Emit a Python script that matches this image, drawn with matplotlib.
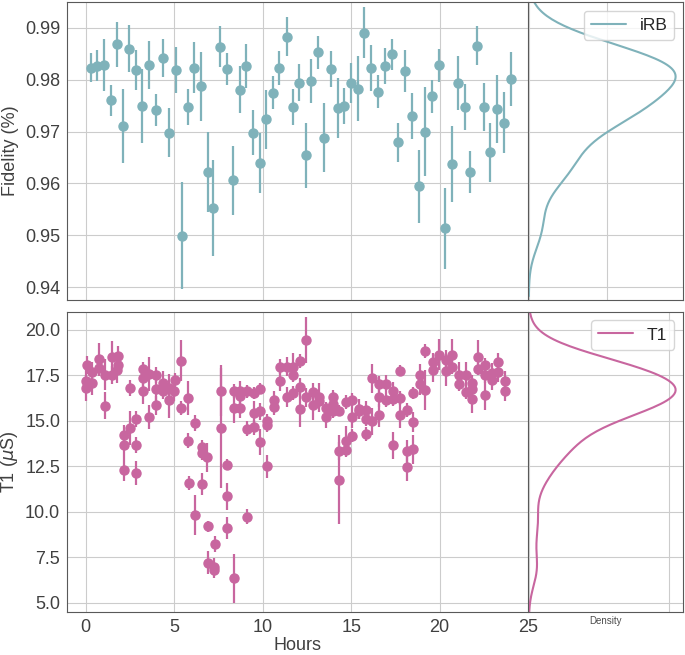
import matplotlib
matplotlib.use("Agg")
import matplotlib.pyplot as plt
from matplotlib.ticker import FormatStrFormatter, MultipleLocator
import seaborn as sns

# iRB fidelity vs time
rb_hours = [0.28, 0.64, 1.04, 1.41, 1.77, 2.09, 2.47, 2.84, 3.2, 3.58, 3.95, 4.35, 4.71,
            5.08, 5.46, 5.76, 6.14, 6.52, 6.89, 7.21, 7.59, 7.97, 8.32, 8.7, 9.08, 9.45,
            9.83, 10.2, 10.56, 10.94, 11.39, 11.69, 12.07, 12.43, 12.75, 13.13, 13.49,
            13.87, 14.25, 14.62, 15.0, 15.38, 15.75, 16.13, 16.49, 16.94, 17.32, 17.66,
            18.06, 18.43, 18.81, 19.17, 19.55, 19.94, 20.3, 20.68, 21.06, 21.43, 21.74,
            22.11, 22.49, 22.87, 23.25, 23.62, 24.06]
rb_fid = [0.9823, 0.9827, 0.9829, 0.9760, 0.9868, 0.9711, 0.9860, 0.9819, 0.9749, 0.9828,
          0.9741, 0.9842, 0.9698, 0.9819, 0.9499, 0.9747, 0.9823, 0.9787, 0.9622, 0.9552,
          0.9864, 0.9821, 0.9606, 0.9781, 0.9826, 0.9698, 0.9639, 0.9724, 0.9775, 0.9823,
          0.9883, 0.9747, 0.9794, 0.9654, 0.9798, 0.9853, 0.9688, 0.9821, 0.9745, 0.9749,
          0.9794, 0.9783, 0.9891, 0.9823, 0.9777, 0.9826, 0.9849, 0.9679, 0.9817, 0.9730,
          0.9594, 0.9700, 0.9768, 0.9828, 0.9513, 0.9637, 0.9794, 0.9747, 0.9622, 0.9866,
          0.9747, 0.9660, 0.9743, 0.9717, 0.9802]
rb_err = [0.0028, 0.003, 0.005, 0.003, 0.0044, 0.0071, 0.0045, 0.0038, 0.0072, 0.0046,
          0.0031, 0.0036, 0.0047, 0.0045, 0.0103, 0.0035, 0.0049, 0.0067, 0.0077, 0.0093,
          0.0039, 0.0031, 0.0067, 0.0045, 0.0042, 0.0043, 0.0058, 0.0057, 0.0032, 0.0033,
          0.0038, 0.0035, 0.0036, 0.0063, 0.0042, 0.0032, 0.0067, 0.0035, 0.0058, 0.0035,
          0.0038, 0.0062, 0.005, 0.0044, 0.0032, 0.0035, 0.003, 0.0038, 0.0041, 0.0044,
          0.007, 0.0085, 0.0032, 0.0032, 0.0078, 0.0073, 0.0052, 0.0044, 0.004, 0.0037,
          0.0046, 0.0057, 0.0066, 0.0059, 0.0052]

# T1 vs time
t1_hours = [0.0, 0.0, 0.06, 0.33, 0.37, 0.74, 0.74, 1.1, 1.1, 1.47, 1.47, 1.82, 1.82, 1.77,
            2.14, 2.14, 2.14, 2.51, 2.51, 2.86, 2.86, 2.86, 3.23, 3.23, 3.23, 3.6, 3.6,
            3.98, 3.98, 3.98, 4.35, 4.35, 4.72, 4.72, 4.98, 5.07, 5.39, 5.39,
            5.79, 5.79, 5.83, 6.17, 6.17, 6.55, 6.55, 6.55, 6.88, 6.92, 6.92, 7.3, 7.26,
            7.26, 7.62, 7.62, 7.99, 7.99, 7.99, 8.37, 8.37, 8.37, 8.74, 8.74, 8.74, 9.12,
            9.12, 9.12, 9.49, 9.49, 9.49, 9.87, 9.87, 9.87, 10.24, 10.24, 10.24, 10.62,
            10.62, 11.0, 11.0, 11.37, 11.37, 11.71, 11.71, 11.71, 12.12, 12.12, 12.12,
            12.46, 12.46,
            12.84, 12.84, 13.21, 13.21, 13.59, 13.59, 13.96, 13.96, 13.96, 14.34, 14.34,
            14.34, 14.69, 14.69, 14.69, 15.07, 15.07, 15.07, 15.45, 15.45, 15.82, 15.82,
            15.82, 16.2, 16.2, 16.57, 16.57, 16.57, 16.99, 16.99, 17.36, 17.36, 17.36,
            17.76, 17.76, 17.76, 18.13, 18.13, 18.13, 18.51, 18.51, 18.51, 18.88, 18.88,
            19.17, 19.17,
            19.63, 19.63, 19.97, 20.35, 20.35, 20.72, 20.72, 21.1, 21.1, 21.48, 21.48,
            21.81, 21.81, 21.81, 22.19, 22.19, 22.56, 22.56, 22.56, 22.94, 22.94, 23.31,
            23.31, 23.69, 23.69]
t1_vals = [17.22, 16.8, 18.08, 17.11, 17.71, 18.39, 17.93, 17.53, 15.83, 18.54, 17.53, 18.57,
           18.08, 17.8, 14.24, 13.66, 12.32, 16.8, 14.61, 15.12, 13.66, 12.14, 17.84, 17.35,
           16.62, 17.57, 15.23, 17.53, 16.76, 15.85, 17.07, 16.62, 16.8, 16.16, 16.62, 17.26,
           18.32, 15.7,
           16.25, 13.91, 11.59, 14.88, 9.82, 13.55, 13.24, 11.54, 13.0, 9.21, 7.2, 8.21,
           6.97, 6.78, 16.65, 14.6, 12.6, 10.86, 9.12, 16.65, 15.7, 6.33, 16.65, 16.38,
           15.7, 16.62, 14.57, 9.73, 16.53, 15.43, 14.64, 16.76, 15.52, 13.84, 14.97, 14.79,
           12.5, 16.16, 15.74, 17.17, 17.99, 17.99, 16.29, 17.99, 17.53, 16.53, 16.84, 15.67,
           18.3, 19.45, 16.29,
           16.58, 15.85, 16.29, 16.1, 15.70, 15.19, 16.29, 15.92, 15.56, 15.56, 13.36, 11.77,
           13.91, 13.42, 16.03, 16.16, 15.19, 14.19, 15.65, 15.52, 15.61, 15.12, 14.28, 17.35,
           14.97, 17.02, 16.29, 15.30, 17.02, 16.16, 16.65, 16.21, 13.66, 17.75, 16.25, 15.30,
           15.61, 13.36, 12.45, 16.53, 14.92, 13.45, 17.53, 17.02, 18.85, 16.71,
           18.26, 17.80, 18.63, 18.35, 17.75, 18.63, 17.99, 17.53, 17.02, 17.53, 16.58, 17.07,
           16.21, 16.76, 18.54, 17.86, 18.08, 16.4, 17.5, 17.62, 17.26, 18.26, 17.71, 17.17,
           16.62]
t1_err = [0.7, 0.7, 0.5, 0.7, 0.55, 0.9, 0.4, 0.85, 0.75, 0.85, 0.5, 0.55, 0.4, 0.7, 0.55,
          0.7, 0.65, 0.45, 0.95, 0.45, 0.45, 0.65, 0.4, 0.7, 0.7, 0.95, 0.65, 0.45, 0.7, 0.5,
          0.65, 0.4, 0.8, 1.0, 0.5, 0.4, 1.15, 0.4,
          0.95, 0.4, 0.37, 0.45, 1.1, 0.4, 0.4, 0.6, 0.8, 0.3, 0.65, 0.45, 0.5, 0.4, 1.4,
          3.3, 0.3, 0.75, 0.6, 0.4, 0.8, 1.35, 0.55, 0.4, 0.55, 0.35, 0.4, 0.4, 0.35, 0.65,
          0.4, 0.3, 0.45, 0.7, 0.4, 0.4, 0.65, 0.5, 0.4, 0.55, 0.4, 0.5, 0.55, 0.75, 0.4,
          0.4, 0.5, 1.0, 0.4, 1.25, 0.5,
          0.5, 0.8, 0.8, 0.4, 0.35, 0.6, 0.4, 0.4, 0.4, 0.3, 0.5, 2.45, 0.8, 0.4, 0.4, 0.4,
          0.6, 0.35, 0.55, 0.4, 0.5, 0.4, 0.4, 0.8, 0.75, 0.45, 0.55, 0.65, 0.5, 0.4, 0.5,
          0.4, 0.75, 0.3, 0.4, 0.7, 0.4, 0.6, 0.75, 0.35, 0.55, 0.8, 0.6, 0.6, 0.4, 1.1,
          0.5, 0.65, 0.85, 0.55, 0.85, 0.9, 0.4, 0.7, 0.4, 0.7, 0.4, 0.45, 0.75, 0.4, 0.9,
          0.35, 0.4, 0.8, 0.4, 0.55, 0.55, 0.45, 0.55, 0.6, 0.55]

teal = "#7fb2ba"
pink = "#c8669f"
txt = "0.25"

sns.set_style("whitegrid")
plt.rcParams["axes.edgecolor"] = "0.35"
plt.rcParams["font.family"] = ["Liberation Sans", "DejaVu Sans"]

fig = plt.figure(figsize=(6.85, 6.55), dpi=100)
ax1 = fig.add_axes([0.098, 0.542, 0.673, 0.455])
ax1d = fig.add_axes([0.772, 0.542, 0.225, 0.455], sharey=ax1)
ax2 = fig.add_axes([0.098, 0.066, 0.673, 0.458], sharex=ax1)
ax2d = fig.add_axes([0.772, 0.066, 0.225, 0.458], sharey=ax2)

ax1.errorbar(rb_hours, rb_fid, yerr=rb_err, fmt="o", color=teal, ms=6.5,
             elinewidth=1.6, ecolor=teal)
ax2.errorbar(t1_hours, t1_vals, yerr=t1_err, fmt="o", color=pink, ms=6.5,
             elinewidth=1.6, ecolor=pink)

sns.kdeplot(y=rb_fid, ax=ax1d, color=teal, lw=1.5, label="iRB")
sns.kdeplot(y=t1_vals, ax=ax2d, color=pink, lw=1.5, label="T1")

ax1.set_xlim(-1.05, 25)
ax1.set_ylim(0.9375, 0.995)
ax2.set_ylim(4.5, 21.0)
ax1.set_xticks([0, 5, 10, 15, 20, 25])
ax1.set_yticks([0.94, 0.95, 0.96, 0.97, 0.98, 0.99])
ax1.yaxis.set_major_formatter(FormatStrFormatter("%.2f"))
ax2.set_yticks([5, 7.5, 10, 12.5, 15, 17.5, 20])
ax2.yaxis.set_major_formatter(FormatStrFormatter("%.1f"))
ax1.tick_params(axis="x", labelbottom=False)
for a in (ax1, ax2):
    a.tick_params(labelsize=13, colors=txt, length=0, pad=5)
ax1.set_ylabel("Fidelity (%)", fontsize=13, color=txt)
ax2.set_ylabel(r"T1 ($\mu$S)", fontsize=13, color=txt)
ax2.set_xlabel("Hours", fontsize=13, color=txt, labelpad=1)

ax1d.xaxis.set_major_locator(MultipleLocator(25))
ax2d.xaxis.set_major_locator(MultipleLocator(0.2))
for a in (ax1d, ax2d):
    a.tick_params(labelleft=False, labelbottom=False, length=0)
    a.spines["left"].set_visible(False)
    a.set_ylabel("")
    a.set_xlabel("")
    a.legend(loc="upper right", fontsize=12.5)
ax2d.set_xlabel("Density", fontsize=7, color="0.3", labelpad=3)

fig.savefig("out.png", dpi=100)
